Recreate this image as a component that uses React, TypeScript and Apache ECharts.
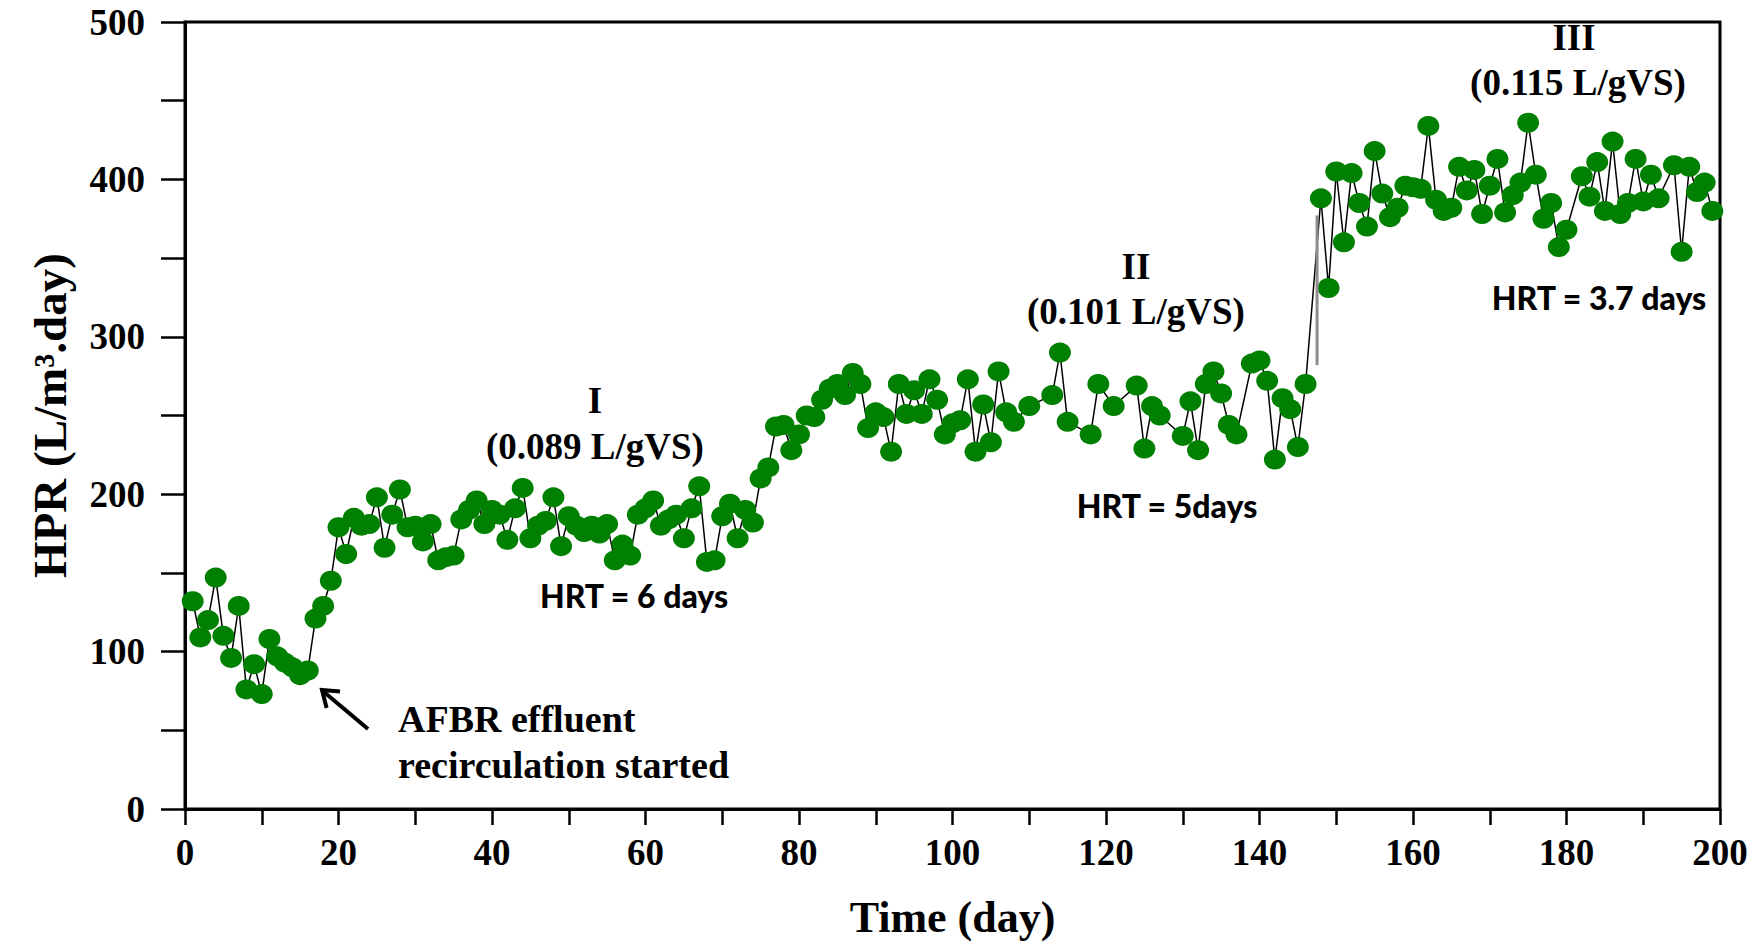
import React, { useEffect, useRef } from 'react';
import * as echarts from 'echarts';

// Time (day) of each measurement
const days = [
  1, 2, 3, 4, 5, 6, 7, 8, 9, 10, 11, 12, 13, 14, 15, 16, 17, 18, 19, 20,
  21, 22, 23, 24, 25, 26, 27, 28, 29, 30, 31, 32, 33, 34, 35, 36, 37, 38, 39, 40,
  41, 42, 43, 44, 45, 46, 47, 48, 49, 50, 51, 52, 53, 54, 55, 56, 57, 58, 59, 60,
  61, 62, 63, 64, 65, 66, 67, 68, 69, 70, 71, 72, 73, 74, 75, 76, 77, 78, 79, 80,
  81, 82, 83, 84, 85, 86, 87, 88, 89, 90, 91, 92, 93, 94, 95, 96, 97, 98, 99, 100,
  101, 102, 103, 104, 105, 106, 107, 108, 110, 113, 114, 115, 118, 119, 121, 124, 125, 126, 127, 130,
  131, 132, 133, 134, 135, 136, 137, 139, 140, 141, 142, 143, 144, 145, 146,
  148, 149, 150, 151, 152, 153, 154, 155, 156, 157, 158, 159, 160, 161, 162, 163, 164, 165, 166, 167,
  168, 169, 170, 171, 172, 173, 174, 175, 176, 177, 178, 179, 180, 182, 183, 184, 185, 186, 187, 188,
  189, 190, 191, 192, 194, 195, 196, 197, 198, 199,
];

// HPR (L/m3.day)
const hpr = [
  132, 109, 120, 147, 110, 96, 129, 76, 92, 73, 108, 97, 93, 90, 85, 88, 121, 129, 145, 179,
  162, 185, 180, 181, 198, 166, 187, 203, 179, 180, 170, 181, 158, 160, 161, 184, 190, 196, 181, 190,
  187, 171, 191, 204, 172, 180, 183, 198, 167, 186, 180, 176, 180, 175, 181, 158, 168, 161, 187, 191,
  196, 180, 184, 187, 172, 191, 205, 157, 158, 186, 194, 172, 190, 182, 210, 217, 243, 244, 228, 238,
  250, 249, 260, 267, 270, 263, 277, 270, 242, 252, 249, 227, 270, 251, 266, 251, 273, 260, 238, 245,
  247, 273, 227, 257, 233, 278, 252, 246, 256, 263, 290, 246, 238, 270, 256, 269, 229, 256, 250, 237,
  259, 228, 270, 278, 264, 244, 238, 283, 285, 272, 222, 261, 254, 230, 270,
  388, 331, 405, 360, 404, 385, 370, 418, 391, 376, 382, 396, 395, 394, 434, 387, 380, 382, 408, 393,
  406, 378, 396, 413, 379, 390, 398, 436, 403, 375, 385, 357, 368, 402, 389, 411, 380, 424, 378, 385,
  413, 386, 403, 388, 409, 354, 408, 392, 398, 380,
];

// grey vertical marker at the phase II -> III change
const shiftDays = [147.5, 147.5];
const shiftHpr = [282, 377];

const SERIF = '"Liberation Serif", "Times New Roman", serif';
const SANS = 'Lato, "Open Sans", sans-serif';

export default function App() {
  const ref = useRef<HTMLDivElement>(null);

  useEffect(() => {
    const chart = echarts.init(ref.current!, null, { renderer: 'svg' });
    const points = days.map((d, i) => [d, hpr[i]]);
    const shift = shiftDays.map((d, i) => [d, shiftHpr[i]]);

    const serifText = (text: string, x: number, y: number) => ({
      type: 'text',
      x,
      y,
      style: {
        text,
        fill: '#000',
        font: `bold 37px ${SERIF}`,
        textAlign: 'center',
        textVerticalAlign: 'middle',
      },
      z: 100,
    });
    const sansText = (text: string, x: number, y: number) => ({
      type: 'text',
      x,
      y,
      style: {
        text,
        fill: '#000',
        font: `900 32px ${SANS}`,
        textAlign: 'center',
        textVerticalAlign: 'middle',
      },
      z: 100,
    });
    const leftText = (text: string, x: number, y: number) => ({
      type: 'text',
      x,
      y,
      style: {
        text,
        fill: '#000',
        font: `bold 38px ${SERIF}`,
        textAlign: 'left',
        textVerticalAlign: 'middle',
      },
      z: 100,
    });

    chart.setOption({
      animation: false,
      backgroundColor: '#fff',
      grid: {
        left: 185,
        right: 39,
        top: 22,
        bottom: 132,
        show: true,
        borderColor: '#000',
        borderWidth: 3,
      },
      xAxis: {
        type: 'value',
        min: 0,
        max: 200,
        interval: 10,
        name: 'Time (day)',
        nameLocation: 'middle',
        nameGap: 86,
        nameTextStyle: {
          fontFamily: SERIF,
          fontWeight: 'bold',
          fontSize: 44,
          color: '#000',
        },
        axisLine: { show: true, onZero: false, lineStyle: { color: '#000', width: 3 } },
        axisTick: { show: true, inside: false, length: 16, lineStyle: { color: '#000', width: 2.5 } },
        axisLabel: {
          margin: 25,
          fontFamily: SERIF,
          fontWeight: 'bold',
          fontSize: 37,
          color: '#000',
          formatter: (v: number) => (v % 20 === 0 ? String(v) : ''),
        },
        splitLine: { show: false },
      },
      yAxis: {
        type: 'value',
        min: 0,
        max: 500,
        interval: 50,
        name: 'HPR (L/m³.day)',
        nameLocation: 'middle',
        nameGap: 112,
        nameTextStyle: {
          fontFamily: SERIF,
          fontWeight: 'bold',
          fontSize: 47,
          color: '#000',
        },
        axisLine: { show: true, onZero: false, lineStyle: { color: '#000', width: 3 } },
        axisTick: { show: true, inside: false, length: 24, lineStyle: { color: '#000', width: 2.5 } },
        axisLabel: {
          margin: 40,
          fontFamily: SERIF,
          fontWeight: 'bold',
          fontSize: 37,
          color: '#000',
          formatter: (v: number) => (v % 100 === 0 ? String(v) : ''),
        },
        splitLine: { show: false },
      },
      series: [
        {
          type: 'line',
          data: points,
          symbol: 'circle',
          symbolSize: [22, 20],
          showAllSymbol: true,
          lineStyle: { color: '#000', width: 1.5 },
          itemStyle: { color: '#008000', borderWidth: 0 },
          z: 3,
        },
        {
          type: 'line',
          data: shift,
          symbol: 'none',
          lineStyle: { color: '#8c8c8c', width: 3 },
          z: 4,
        },
      ],
      graphic: [
        serifText('I', 595, 400),
        serifText('(0.089 L/gVS)', 595, 446),
        sansText('HRT = 6 days', 634, 595),
        serifText('II', 1136, 266),
        serifText('(0.101 L/gVS)', 1136, 311),
        sansText('HRT = 5days', 1167, 505),
        serifText('III', 1574, 37),
        serifText('(0.115 L/gVS)', 1578, 82),
        sansText('HRT = 3.7 days', 1599, 297),
        leftText('AFBR effluent', 398, 719),
        leftText('recirculation started', 398, 765),
        {
          type: 'line',
          shape: { x1: 368, y1: 729, x2: 324, y2: 692 },
          style: { stroke: '#000', lineWidth: 4 },
        },
        {
          type: 'polyline',
          shape: { points: [[326.6, 708], [322, 690], [340, 691.6]] },
          style: { stroke: '#000', lineWidth: 4, fill: 'none' },
        },
      ],
    });

    return () => chart.dispose();
  }, []);

  return (
    <div
      ref={ref}
      style={{ position: 'absolute', left: 0, top: 0, width: 1759, height: 944, background: '#fff' }}
    />
  );
}
